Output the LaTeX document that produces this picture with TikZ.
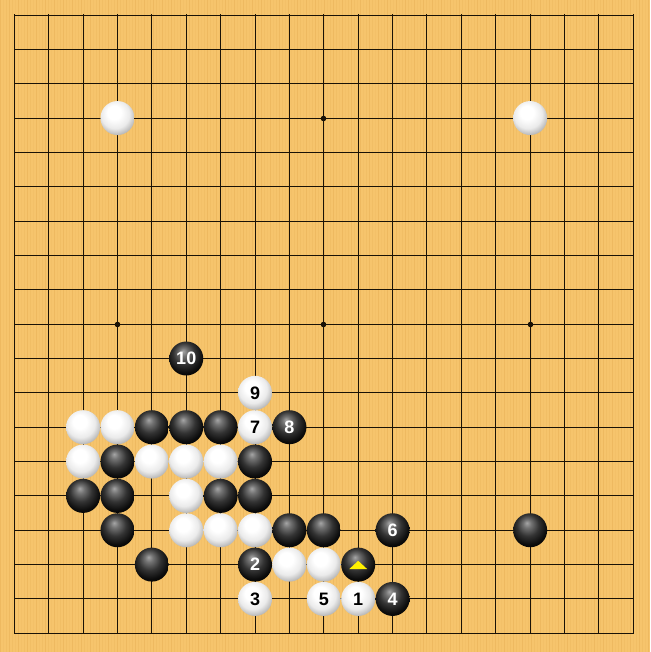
\documentclass[tikz,border=0pt]{standalone}
\usepackage{fontspec}
\setsansfont{Liberation Sans}
\definecolor{board}{HTML}{F6C46C}
\definecolor{stripe}{HTML}{EDB75E}
\definecolor{gridc}{HTML}{1A1206}
\pgfdeclareradialshading{bstone}{\pgfpoint{-5bp}{11bp}}{color(0bp)=(black!35); color(6bp)=(black!55); color(16bp)=(black!80); color(26bp)=(black!95); color(32bp)=(black); color(50bp)=(black)}
\pgfdeclareradialshading{wstone}{\pgfpoint{-6bp}{10bp}}{color(0bp)=(white); color(10bp)=(white); color(21bp)=(black!8); color(29bp)=(black!28); color(36bp)=(black!45); color(50bp)=(black!50)}
\newcommand\gostone[4]{\node[#1] (s-#2-#3) at ({14.3+#2*34.39},{15+#3*34.35}) {#4};}
\begin{document}
\begin{tikzpicture}[x=0.5pt,y=-0.5pt,
  stone/.style={circle,inner sep=0pt,minimum size=17pt,font=\sffamily\bfseries\fontsize{9}{9}\selectfont},
  bs/.style={stone,shading=bstone,text=white},
  ws/.style={stone,shading=wstone,text=black},
  gridline/.style={gridc,line width=0.8pt},
  hoshi/.style={circle,fill=gridc,inner sep=0pt,minimum size=2.8pt}]
\useasboundingbox (0,0) rectangle (650,652);
\fill[board] (0,0) rectangle (650,652);
\foreach \i in {0,...,216} {
  \pgfmathsetmacro\op{mod(\i,3)==0 ? 0.8 : (mod(\i,2)==0 ? 0.45 : 0.25)}
  \fill[stripe,opacity=\op] ({3*\i},0) rectangle ++(1.3,652);
}
\foreach \k in {0,...,18} {
  \pgfmathsetmacro\gx{floor(14.3+\k*34.39)+0.5}
  \pgfmathsetmacro\gy{floor(15+\k*34.35)+0.5}
  \draw[gridline] (\gx,14.1) -- (\gx,633.9);
  \draw[gridline] (14.1,\gy) -- (633.9,\gy);
}
\foreach \a/\b [count=\n] in {3/3,9/3,15/3,3/9,9/9,15/9,3/15,9/15,15/15}
  \node[hoshi] (h\n) at ({floor(14.3+\a*34.39)+0.5},{floor(15+\b*34.35)+0.5}) {};
% stones
\gostone{ws}{3}{3}{}
\gostone{ws}{15}{3}{}
\gostone{bs}{5}{10}{10}
\gostone{ws}{7}{11}{9}
\gostone{ws}{2}{12}{}
\gostone{ws}{3}{12}{}
\gostone{bs}{4}{12}{}
\gostone{bs}{5}{12}{}
\gostone{bs}{6}{12}{}
\gostone{ws}{7}{12}{7}
\gostone{bs}{8}{12}{8}
\gostone{ws}{2}{13}{}
\gostone{bs}{3}{13}{}
\gostone{ws}{4}{13}{}
\gostone{ws}{5}{13}{}
\gostone{ws}{6}{13}{}
\gostone{bs}{7}{13}{}
\gostone{bs}{2}{14}{}
\gostone{bs}{3}{14}{}
\gostone{ws}{5}{14}{}
\gostone{bs}{6}{14}{}
\gostone{bs}{7}{14}{}
\gostone{bs}{3}{15}{}
\gostone{ws}{5}{15}{}
\gostone{ws}{6}{15}{}
\gostone{ws}{7}{15}{}
\gostone{bs}{8}{15}{}
\gostone{bs}{9}{15}{}
\gostone{bs}{11}{15}{6}
\gostone{bs}{15}{15}{}
\gostone{bs}{4}{16}{}
\gostone{bs}{7}{16}{2}
\gostone{ws}{8}{16}{}
\gostone{ws}{9}{16}{}
\gostone{bs}{10}{16}{}
\gostone{ws}{7}{17}{3}
\gostone{ws}{9}{17}{5}
\gostone{ws}{10}{17}{1}
\gostone{bs}{11}{17}{4}
\fill[yellow] (s-10-16.center) ++(0,-3.8) -- ++(9,8.3) -- ++(-18,0) -- cycle;
\end{tikzpicture}
\end{document}
